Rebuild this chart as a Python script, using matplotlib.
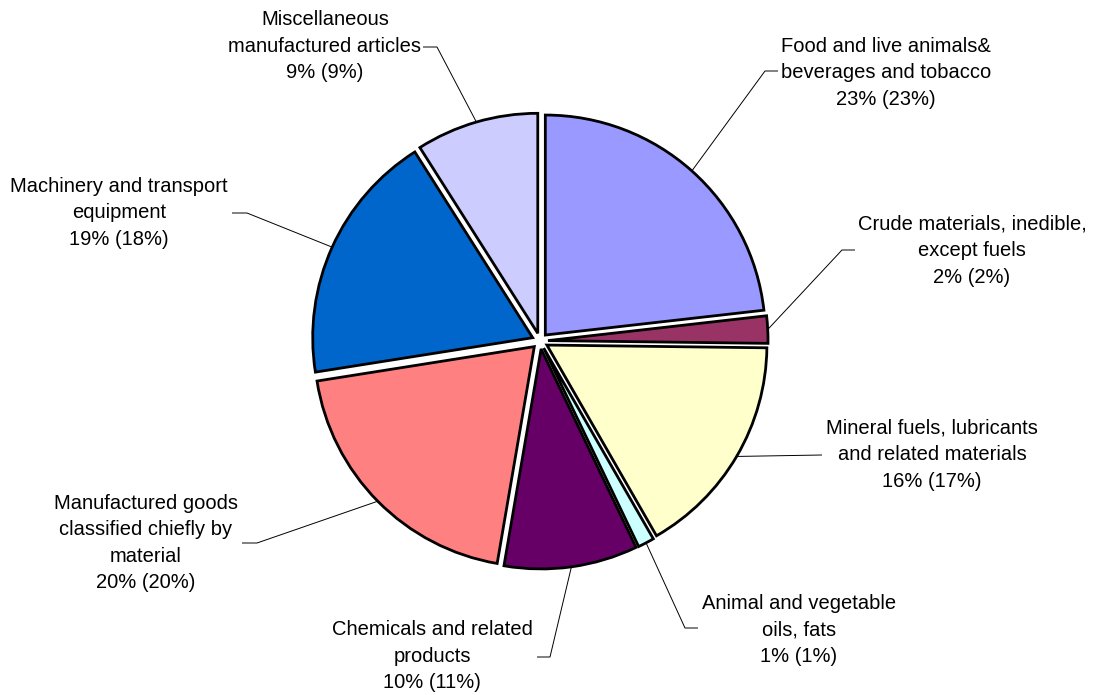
import matplotlib.pyplot as plt
import numpy as np

# данные
categories = ['Food and live animals&\nbeverages and tobacco',
              'Crude materials, inedible,\nexcept fuels',
              'Mineral fuels, lubricants\nand related materials',
              'Animal and vegetable\noils, fats',
              'Chemicals and related\nproducts',
              'Manufactured goods\nclassified chiefly by\nmaterial',
              'Machinery and transport\nequipment',
              'Miscellaneous\nmanufactured articles']
values = [23.2, 2.0, 16.5, 1.2, 9.8, 19.8, 18.5, 9.0]
pct_labels = ['23% (23%)', '2% (2%)', '16% (17%)', '1% (1%)',
              '10% (11%)', '20% (20%)', '19% (18%)', '9% (9%)']
colors = ['#9999FF', '#993366', '#FFFFCC', '#CCFFFF',
          '#660066', '#FF8080', '#0066CC', '#CCCCFF']

W, H = 1099, 695
# положение подписей (центр текста) и излом выноски, в пикселях картинки
text_pos = [(886, 73), (972, 251), (932, 455), (799, 630),
            (432, 656), (146, 543), (119, 213), (325, 46)]
elbow = [(765, 71), (842, 250), (822, 455), (685, 628),
         (550, 657), (257, 543), (247, 213), (437, 47)]
tick_len = [13, 13, 0, 13, -13, -15, -15, -14]

plt.rcParams['font.family'] = ['Liberation Sans', 'DejaVu Sans']

fig = plt.figure(figsize=(W / 100, H / 100), dpi=100)
ax = fig.add_axes([0, 0, 1, 1])

cx, cy, R = 540, H - 341, 220
wedges, _ = ax.pie(values, colors=colors, startangle=90, counterclock=False,
                   explode=[8] * len(values), radius=R, center=(cx, cy),
                   wedgeprops=dict(edgecolor='black', linewidth=2.0))
ax.set_xlim(0, W)
ax.set_ylim(0, H)
ax.set_aspect('equal')
ax.axis('off')

for i, w in enumerate(wedges):
    th = np.deg2rad((w.theta1 + w.theta2) / 2)
    x0 = w.center[0] + w.r * np.cos(th)
    y0 = w.center[1] + w.r * np.sin(th)
    ex, ey = elbow[i][0], H - elbow[i][1]
    ax.plot([x0, ex, ex + tick_len[i]], [y0, ey, ey], color='black', lw=0.7,
            solid_capstyle='butt')
    tx, ty = text_pos[i]
    ax.text(tx, H - ty, categories[i] + '\n' + pct_labels[i], ha='center',
            va='center', multialignment='center', fontsize=14.5, linespacing=1.5)

fig.savefig('out.png', dpi=100)
